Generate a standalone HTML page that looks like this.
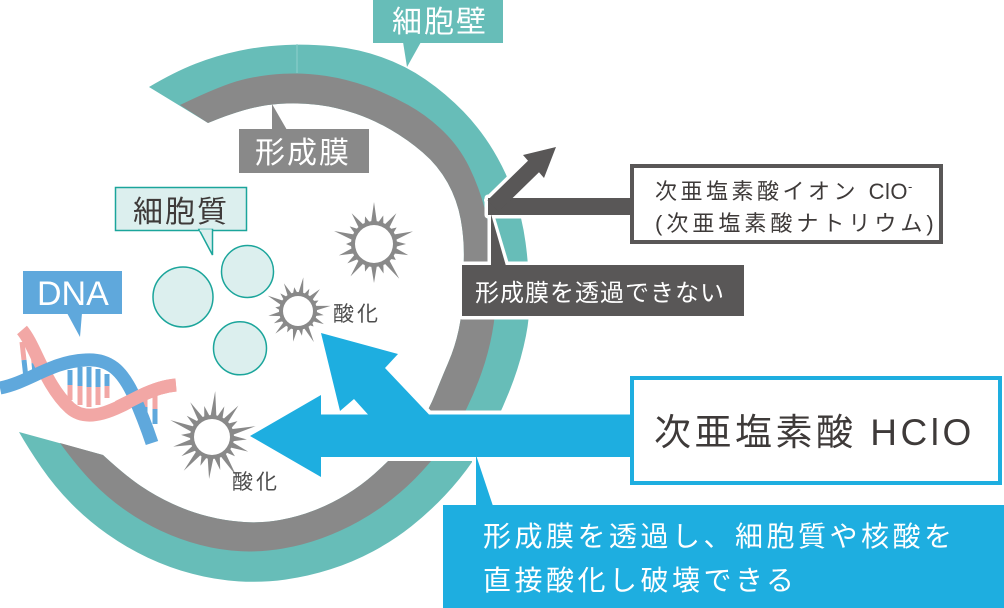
<!DOCTYPE html>
<html><head><meta charset="utf-8"><style>
html,body{margin:0;padding:0;background:#fff;}
svg{display:block;}
text{font-family:"Liberation Sans","Noto Sans CJK JP",sans-serif;}
</style></head><body>
<svg width="1004" height="608" viewBox="0 0 1004 608" xmlns="http://www.w3.org/2000/svg">
<rect width="1004" height="608" fill="#fff"/>
<!-- ring -->
<path fill="#67bdb8" d="M149,87 Q174.3,72 195.45,63.75 Q216.6,55.5 239.3,50.75 Q262,46 285.7,44.95 Q309.4,43.9 333.75,46.4 Q358.1,48.9 381.55,57.1 Q405,65.3 425.55,79.45 Q446.1,93.6 463.4,111.55 Q480.7,129.5 493.45,150.75 Q506.2,172 514.25,195.15 Q522.3,218.3 525.5,242.15 Q528.7,266 529.6,289.5 Q530.5,313 525.95,335.85 Q521.4,358.7 513.55,380.2 Q505.7,401.7 495.75,421.95 Q485.8,442.2 473,460.75 Q460.2,479.3 444.65,495.75 Q429.1,512.2 411.25,526.35 Q393.4,540.5 373.05,551.35 Q352.7,562.2 330.55,569.3 Q308.4,576.4 285.2,579.6 Q262,582.8 238.5,581.35 Q215,579.9 192.15,573.8 Q169.3,567.7 147.9,557.7 Q126.5,547.7 107.2,534.05 Q87.9,520.4 71.35,503.65 Q54.8,486.9 41.45,467.5 Q28.1,448.1 19,432 L103,455 Q125.5,475.7 140.8,486.05 Q156.1,496.4 172.9,504.05 Q189.7,511.7 207.55,516.3 Q225.4,520.9 243.7,522.05 Q262,523.2 279.95,520 Q297.9,516.8 314.65,510.25 Q331.4,503.7 346.45,494.5 Q361.5,485.3 374.4,473.85 Q387.3,462.4 398.95,450.05 Q410.6,437.7 419.85,423.6 Q429.1,409.5 435.3,393.9 Q441.5,378.3 448.25,362.65 Q455,347 458.65,330 Q462.3,313 462.85,295.25 Q463.4,277.5 463.85,258.45 Q464.3,239.4 460.8,219.8 Q457.3,200.2 447.65,182.8 Q438,165.4 422.8,152.45 Q407.6,139.5 390.6,129.65 Q373.6,119.8 355.25,113.55 Q336.9,107.3 318,104.9 Q299.1,102.5 280.55,103.75 Q262,105 244.55,110 Q227.1,115 208,123 Z"/>
<path fill="#898989" d="M180,105 Q221.8,84.8 241.9,79.85 Q262,74.9 283.2,73.75 Q304.4,72.6 325.75,75.85 Q347.1,79.1 367.8,86.55 Q388.5,94 408,104.9 Q427.5,115.8 443.55,131.5 Q459.6,147.2 469.4,167.4 Q479.2,187.6 484.7,208.8 Q490.2,230 493.35,250.85 Q496.5,271.7 496.2,292.35 Q495.9,313 492.2,332.95 Q488.5,352.9 481.9,371.75 Q475.3,390.6 466.7,408.4 Q458.1,426.2 446.3,442 Q434.5,457.8 421.15,472.25 Q407.8,486.7 392.2,499.05 Q376.6,511.4 359,521.25 Q341.4,531.1 322.15,538.1 Q302.9,545.1 282.45,548.65 Q262,552.2 241.1,551.25 Q220.2,550.3 199.9,544.9 Q179.6,539.5 160.55,530.6 Q141.5,521.7 124.4,509.55 Q107.3,497.4 92.6,482.45 Q77.9,467.5 60,443 L103,455 Q125.5,475.7 140.8,486.05 Q156.1,496.4 172.9,504.05 Q189.7,511.7 207.55,516.3 Q225.4,520.9 243.7,522.05 Q262,523.2 279.95,520 Q297.9,516.8 314.65,510.25 Q331.4,503.7 346.45,494.5 Q361.5,485.3 374.4,473.85 Q387.3,462.4 398.95,450.05 Q410.6,437.7 419.85,423.6 Q429.1,409.5 435.3,393.9 Q441.5,378.3 448.25,362.65 Q455,347 458.65,330 Q462.3,313 462.85,295.25 Q463.4,277.5 463.85,258.45 Q464.3,239.4 460.8,219.8 Q457.3,200.2 447.65,182.8 Q438,165.4 422.8,152.45 Q407.6,139.5 390.6,129.65 Q373.6,119.8 355.25,113.55 Q336.9,107.3 318,104.9 Q299.1,102.5 280.55,103.75 Q262,105 244.55,110 Q227.1,115 208,123 Z"/>
<line x1="297" y1="44" x2="297" y2="73" stroke="#8fd0cb" stroke-width="1"/>

<!-- labels on ring -->
<rect x="373" y="0" width="130" height="43" fill="#67bdb8"/>
<polygon points="403,42 421,42 407,67" fill="#67bdb8"/>
<text x="392" y="32" font-size="30" fill="#fff" letter-spacing="2">細胞壁</text>

<rect x="239" y="129" width="130" height="44" fill="#898989"/>
<polygon points="272,104 272,130 287,130" fill="#898989"/>
<text x="255" y="163" font-size="30" fill="#fff" letter-spacing="2">形成膜</text>

<!-- cytoplasm -->
<rect x="115.5" y="187.5" width="131" height="43" fill="#dcefee" stroke="#1ba59b" stroke-width="1.5"/>
<polygon points="199,229.5 212.5,229.5 212.5,255" fill="#dcefee" stroke="#1ba59b" stroke-width="1.5" stroke-linejoin="miter"/>
<line x1="199.8" y1="230.3" x2="211.7" y2="230.3" stroke="#dcefee" stroke-width="2"/>
<text x="133" y="222" font-size="30" fill="#3e3a39" letter-spacing="2">細胞質</text>
<circle cx="183" cy="297" r="30" fill="#dcefee" stroke="#1ba59b" stroke-width="1.5"/>
<circle cx="247.5" cy="271.5" r="26" fill="#dcefee" stroke="#1ba59b" stroke-width="1.5"/>
<circle cx="240" cy="348.3" r="26.5" fill="#dcefee" stroke="#1ba59b" stroke-width="1.5"/>

<!-- DNA -->
<rect x="23" y="271" width="99" height="43" fill="#5fa8dc"/>
<polygon points="67,313 82,313 80,337" fill="#5fa8dc"/>
<text x="37" y="305" font-size="34" fill="#fff">DNA</text>

<g stroke-width="5" fill="none">
  <line x1="22" y1="342" x2="24" y2="360" stroke="#f2a7a5"/>
  <line x1="24" y1="360" x2="26" y2="378" stroke="#5fa8dc"/>
  <line x1="33" y1="352" x2="34" y2="363" stroke="#f2a7a5"/>
  <line x1="34" y1="363" x2="35" y2="374" stroke="#5fa8dc"/>
  <line x1="70" y1="370" x2="70" y2="385" stroke="#5fa8dc"/>
  <line x1="70" y1="385" x2="70" y2="400" stroke="#f2a7a5"/>
  <line x1="80" y1="367" x2="80" y2="386" stroke="#5fa8dc"/>
  <line x1="80" y1="386" x2="80" y2="405" stroke="#f2a7a5"/>
  <line x1="89" y1="367" x2="89" y2="387" stroke="#5fa8dc"/>
  <line x1="89" y1="387" x2="89" y2="407" stroke="#f2a7a5"/>
  <line x1="98" y1="369" x2="98" y2="387" stroke="#5fa8dc"/>
  <line x1="98" y1="387" x2="98" y2="405" stroke="#f2a7a5"/>
  <line x1="107" y1="374" x2="107" y2="386" stroke="#5fa8dc"/>
  <line x1="107" y1="386" x2="107" y2="398" stroke="#f2a7a5"/>
  <line x1="145" y1="399" x2="145" y2="407" stroke="#f2a7a5"/>
  <line x1="145" y1="407" x2="145" y2="416" stroke="#5fa8dc"/>
  <line x1="155" y1="395" x2="155" y2="409" stroke="#f2a7a5"/>
  <line x1="155" y1="409" x2="155" y2="424" stroke="#5fa8dc"/>
</g>
<path d="M 22,330 C 35,345 45,385 70,408 C 88,424 115,410 140,396 C 155,389 165,386 176,385" fill="none" stroke="#f2a7a5" stroke-width="13"/>
<path d="M 0,388 C 30,382 50,362 85,360 C 110,358 122,372 132,392 C 140,410 147,428 152,443" fill="none" stroke="#5fa8dc" stroke-width="13"/>
<path d="M 118,407 C 128,402 134,399 140,396 C 155,389 165,386 176,385" fill="none" stroke="#f2a7a5" stroke-width="13"/>

<!-- starbursts -->
<g transform="translate(374,244)" fill="#898989">
  <polygon points="-3,-21 0,-42 3,-21"/><polygon points="-3,-21 0,-30 3,-21" transform="rotate(18)"/><polygon points="-3,-21 0,-38 3,-21" transform="rotate(36)"/><polygon points="-3,-21 0,-28 3,-21" transform="rotate(54)"/><polygon points="-3,-21 0,-41 3,-21" transform="rotate(72)"/><polygon points="-3,-21 0,-32 3,-21" transform="rotate(90)"/><polygon points="-3,-21 0,-36 3,-21" transform="rotate(108)"/><polygon points="-3,-21 0,-27 3,-21" transform="rotate(126)"/><polygon points="-3,-21 0,-43 3,-21" transform="rotate(144)"/><polygon points="-3,-21 0,-31 3,-21" transform="rotate(162)"/><polygon points="-3,-21 0,-39 3,-21" transform="rotate(180)"/><polygon points="-3,-21 0,-29 3,-21" transform="rotate(198)"/><polygon points="-3,-21 0,-40 3,-21" transform="rotate(216)"/><polygon points="-3,-21 0,-33 3,-21" transform="rotate(234)"/><polygon points="-3,-21 0,-37 3,-21" transform="rotate(252)"/><polygon points="-3,-21 0,-28 3,-21" transform="rotate(270)"/><polygon points="-3,-21 0,-42 3,-21" transform="rotate(288)"/><polygon points="-3,-21 0,-30 3,-21" transform="rotate(306)"/><polygon points="-3,-21 0,-38 3,-21" transform="rotate(324)"/><polygon points="-3,-21 0,-29 3,-21" transform="rotate(342)"/>
  <circle r="23"/><circle r="19" fill="#fff"/>
</g>
<g transform="translate(298,311)" fill="#898989">
  <polygon points="-2.5,-17 0,-34 2.5,-17" transform="rotate(9)"/><polygon points="-2.5,-17 0,-25 2.5,-17" transform="rotate(27)"/><polygon points="-2.5,-17 0,-31 2.5,-17" transform="rotate(45)"/><polygon points="-2.5,-17 0,-23 2.5,-17" transform="rotate(63)"/><polygon points="-2.5,-17 0,-33 2.5,-17" transform="rotate(81)"/><polygon points="-2.5,-17 0,-26 2.5,-17" transform="rotate(99)"/><polygon points="-2.5,-17 0,-29 2.5,-17" transform="rotate(117)"/><polygon points="-2.5,-17 0,-22 2.5,-17" transform="rotate(135)"/><polygon points="-2.5,-17 0,-35 2.5,-17" transform="rotate(153)"/><polygon points="-2.5,-17 0,-25 2.5,-17" transform="rotate(171)"/><polygon points="-2.5,-17 0,-31 2.5,-17" transform="rotate(189)"/><polygon points="-2.5,-17 0,-24 2.5,-17" transform="rotate(207)"/><polygon points="-2.5,-17 0,-32 2.5,-17" transform="rotate(225)"/><polygon points="-2.5,-17 0,-27 2.5,-17" transform="rotate(243)"/><polygon points="-2.5,-17 0,-30 2.5,-17" transform="rotate(261)"/><polygon points="-2.5,-17 0,-23 2.5,-17" transform="rotate(279)"/><polygon points="-2.5,-17 0,-34 2.5,-17" transform="rotate(297)"/><polygon points="-2.5,-17 0,-25 2.5,-17" transform="rotate(315)"/><polygon points="-2.5,-17 0,-31 2.5,-17" transform="rotate(333)"/><polygon points="-2.5,-17 0,-24 2.5,-17" transform="rotate(351)"/>
  <circle r="19"/><circle r="15" fill="#fff"/>
</g>
<g transform="translate(212,437)" fill="#898989">
  <polygon points="-3,-20 0,-46 3,-20" transform="rotate(4)"/><polygon points="-3,-20 0,-33 3,-20" transform="rotate(22)"/><polygon points="-3,-20 0,-41 3,-20" transform="rotate(40)"/><polygon points="-3,-20 0,-30 3,-20" transform="rotate(58)"/><polygon points="-3,-20 0,-45 3,-20" transform="rotate(76)"/><polygon points="-3,-20 0,-35 3,-20" transform="rotate(94)"/><polygon points="-3,-20 0,-39 3,-20" transform="rotate(112)"/><polygon points="-3,-20 0,-30 3,-20" transform="rotate(130)"/><polygon points="-3,-20 0,-46 3,-20" transform="rotate(148)"/><polygon points="-3,-20 0,-34 3,-20" transform="rotate(166)"/><polygon points="-3,-20 0,-42 3,-20" transform="rotate(184)"/><polygon points="-3,-20 0,-31 3,-20" transform="rotate(202)"/><polygon points="-3,-20 0,-44 3,-20" transform="rotate(220)"/><polygon points="-3,-20 0,-36 3,-20" transform="rotate(238)"/><polygon points="-3,-20 0,-40 3,-20" transform="rotate(256)"/><polygon points="-3,-20 0,-31 3,-20" transform="rotate(274)"/><polygon points="-3,-20 0,-45 3,-20" transform="rotate(292)"/><polygon points="-3,-20 0,-33 3,-20" transform="rotate(310)"/><polygon points="-3,-20 0,-41 3,-20" transform="rotate(328)"/><polygon points="-3,-20 0,-32 3,-20" transform="rotate(346)"/>
  <circle r="22"/><circle r="18" fill="#fff"/>
</g>
<text x="333" y="321" font-size="21" fill="#4d4d4d" letter-spacing="3">酸化</text>
<text x="232" y="489" font-size="21" fill="#4d4d4d" letter-spacing="3">酸化</text>

<!-- dark arrow + label -->
<g fill="#fff" stroke="#fff" stroke-width="7" stroke-linejoin="round">
  <rect x="488" y="198" width="146" height="17"/>
  <polygon points="487.5,200.2 528,160.7 523,155 556,147 544,178 539,172.3 498.5,211.8"/>
  <polygon points="491,216 491,266 506,266"/>
  <rect x="462" y="265" width="282" height="51"/>
</g>
<g fill="#595757">
  <rect x="488" y="198" width="146" height="17"/>
  <polygon points="487.5,200.2 528,160.7 523,155 556,147 544,178 539,172.3 498.5,211.8"/>
  <polygon points="491,214 491,266 506,266"/>
  <rect x="462" y="265" width="282" height="51"/>
</g>
<text x="475" y="301" font-size="24" fill="#fff" letter-spacing="1">形成膜を透過できない</text>

<rect x="632" y="166" width="309" height="76" fill="#fff" stroke="#595757" stroke-width="4"/>
<text x="655" y="199" font-size="22" fill="#3e3a39" letter-spacing="3.5">次亜塩素酸イオン <tspan letter-spacing="0.5">ClO</tspan><tspan dy="-8" font-size="13">-</tspan></text>
<text x="655" y="231" font-size="22" fill="#3e3a39" letter-spacing="4">(次亜塩素酸ナトリウム)</text>

<!-- blue arrows and box -->
<g fill="#fff" stroke="#fff" stroke-width="8" stroke-linejoin="round">
  <polygon points="634,414.5 429,414.5 385,368 398,354 321,333 340,411 354,399 368,414.5 321,414.5 321,395 250,436 321,477 321,457 634,457"/>
  <polygon points="476,455 476,506 493,506"/>
  <rect x="443" y="505" width="561" height="103"/>
</g>
<g fill="#1eaee0">
  <polygon points="634,414.5 429,414.5 385,368 398,354 321,333 340,411 354,399 368,414.5 321,414.5 321,395 250,436 321,477 321,457 634,457"/>
  <polygon points="476,455 476,506 493,506"/>
  <rect x="443" y="505" width="561" height="103"/>
</g>
<text x="483" y="546" font-size="28" fill="#fff" letter-spacing="3.5">形成膜を透過し、細胞質や核酸を</text>
<text x="483" y="590" font-size="28" fill="#fff" letter-spacing="3.5">直接酸化し破壊できる</text>

<rect x="632" y="378" width="368" height="105" fill="#fff" stroke="#1eaee0" stroke-width="4"/>
<text x="654" y="445" font-size="37" fill="#3e3a39" letter-spacing="3.5">次亜塩素酸 HClO</text>
</svg>
</body></html>
